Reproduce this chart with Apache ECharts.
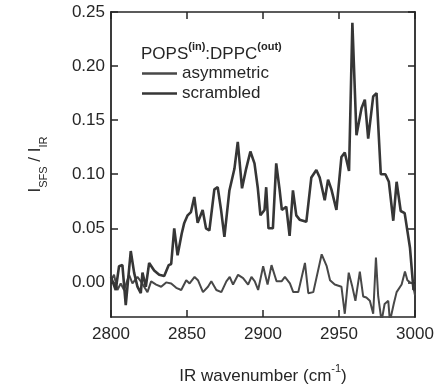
<!DOCTYPE html>
<html>
<head>
<meta charset="utf-8">
<script src="https://cdn.jsdelivr.net/npm/echarts@6/dist/echarts.min.js"></script>
<style>
  html, body { margin: 0; padding: 0; background: #fff; }
  #chart { width: 435px; height: 386px; }
</style>
</head>
<body>
<div id="chart"></div>
<script>
// wavenumbers (cm-1) and intensities
const wnScrambled = [
  2800, 2801, 2803.1, 2805.3, 2807.5, 2809.7, 2813, 2815.2, 2817.4, 2819.6,
  2820.7, 2822.9, 2825.1, 2828.4, 2831.7, 2835, 2838, 2839.6, 2841.6, 2843.8,
  2846.5, 2848.2, 2850.4, 2852.6, 2854.8, 2857, 2860.3, 2862.5, 2864.7, 2868,
  2870.2, 2872.4, 2874.6, 2877.9, 2881.2, 2883.4, 2886.2, 2888.9, 2891.7, 2894.4,
  2896.6, 2898.3, 2901, 2902.1, 2903.6, 2906.5, 2908.7, 2910.9, 2912.4, 2915.3,
  2917.5, 2919.7, 2921.9, 2924.1, 2928.5, 2931.8, 2935.1, 2937.3, 2940.6, 2942.8,
  2945, 2948.3, 2951.6, 2953.8, 2956.6, 2958.8, 2961.5, 2964.8, 2967, 2969.2,
  2972.5, 2974.7, 2977.5, 2980.5, 2982.8, 2985.7, 2987.9, 2990.6, 2993.2, 2996.7,
  2999, 3000
];
const scrambled = [
  0.005, 0.005, -0.007, 0.015, 0.016, -0.021, 0.029, 0.009, -0.004, -0.010,
  0.009, -0.004, 0.018, 0.011, 0.007, 0.006, 0.016, 0.017, 0.050, 0.025,
  0.045, 0.055, 0.062, 0.065, 0.079, 0.055, 0.067, 0.050, 0.048, 0.086,
  0.088, 0.067, 0.042, 0.085, 0.105, 0.130, 0.087, 0.105, 0.121, 0.110,
  0.087, 0.062, 0.067, 0.088, 0.050, 0.050, 0.110, 0.086, 0.067, 0.070,
  0.043, 0.085, 0.062, 0.058, 0.056, 0.097, 0.104, 0.097, 0.076, 0.095,
  0.086, 0.067, 0.116, 0.120, 0.103, 0.240, 0.136, 0.161, 0.169, 0.133,
  0.172, 0.175, 0.100, 0.100, 0.093, 0.057, 0.093, 0.066, 0.064, 0.032,
  -0.007, -0.005
];
const wnAsymmetric = [
  2800, 2802, 2804.2, 2806.4, 2808.6, 2811.9, 2814.1, 2817.4, 2819.6, 2821.8,
  2824, 2826.4, 2829.7, 2833, 2836.3, 2839.6, 2842.9, 2846.2, 2849.5, 2851.7,
  2855, 2857.2, 2860.5, 2863.8, 2866, 2869.3, 2872.6, 2875.9, 2878.1, 2880.3,
  2883.6, 2886.9, 2890.2, 2892.4, 2894.6, 2896.8, 2900.1, 2903, 2905.6, 2908.9,
  2912.2, 2914.4, 2917.7, 2919.9, 2923.2, 2927.6, 2929.8, 2933.1, 2938.6, 2941.9,
  2944.1, 2947.2, 2951.6, 2953.8, 2956.4, 2958.6, 2960.8, 2963.7, 2965.9, 2968,
  2970.3, 2972.5, 2974.3, 2975.8, 2978, 2980, 2982.4, 2983.5, 2986, 2987.9,
  2991.2, 2993.4, 2995, 2996.7, 2998.5, 3000
];
const asymmetric = [
  0.002, 0.007, -0.007, -0.001, -0.007, 0.007, -0.001, 0.005, 0.001, -0.004,
  -0.009, 0.001, -0.002, -0.004, 0.000, -0.001, -0.005, -0.007, 0.002, -0.001,
  0.005, 0.002, -0.009, -0.004, 0.001, -0.007, -0.009, 0.001, 0.005, -0.002,
  0.007, 0.004, -0.002, 0.005, 0.001, -0.007, 0.015, -0.002, 0.016, 0.001,
  0.001, 0.005, -0.001, -0.009, -0.009, 0.018, -0.010, -0.009, 0.026, 0.015,
  0.002, -0.002, -0.004, -0.029, 0.009, -0.003, -0.017, 0.010, -0.013, -0.014,
  -0.017, -0.029, 0.023, -0.013, -0.036, -0.020, -0.017, -0.036, -0.020, -0.009,
  -0.002, 0.010, 0.002, 0.000, -0.001, -0.012
];
const xTicks = [2800, 2850, 2900, 2950, 3000];
const yTicks = [0.00, 0.05, 0.10, 0.15, 0.20, 0.25];

const pairs = (xs, ys) => xs.map((x, i) => [x, ys[i]]);

const font = "Liberation Sans, Arial, sans-serif";
const ink = "#262626";

const chart = echarts.init(document.getElementById("chart"));

const frameX = {
  type: "value",
  min: 2800,
  max: 3000,
  interval: 50,
  axisLine: { onZero: false, lineStyle: { color: ink, width: 1.5 } },
  axisTick: { inside: true, length: 7, lineStyle: { color: ink, width: 1.5 } },
  splitLine: { show: false },
};
const frameY = {
  type: "value",
  min: -0.032,
  max: 0.25,
  axisLine: { show: true, onZero: false, lineStyle: { color: ink, width: 1.8 } },
  axisTick: {
    show: true,
    inside: true,
    length: 7,
    customValues: yTicks,
    lineStyle: { color: ink, width: 1.5 },
  },
  splitLine: { show: false },
};

const option = {
  animation: false,
  title: {
    text: "{a|POPS}{s|(in)}{a|:DPPC}{s|(out)}",
    left: 136,
    top: 36,
    textStyle: {
      fontWeight: "normal",
      rich: {
        a: { fontFamily: font, fontSize: 17, fontWeight: "normal", color: ink, lineHeight: 22, verticalAlign: "bottom" },
        s: { fontFamily: font, fontSize: 11, fontWeight: "bold", color: ink, lineHeight: 22, verticalAlign: "top" },
      },
    },
  },
  legend: {
    orient: "vertical",
    left: 137,
    top: 60,
    itemWidth: 35,
    itemHeight: 2.5,
    itemGap: 3,
    icon: "rect",
    textStyle: { fontFamily: font, fontSize: 17, color: ink },
    data: ["asymmetric", "scrambled"],
  },
  grid: { left: 111, right: 20, top: 12, bottom: 69, outerBoundsMode: "none" },
  xAxis: [
    Object.assign({}, frameX, {
      position: "bottom",
      name: "{a|IR wavenumber (cm}{s|-1}{a|)}",
      nameLocation: "middle",
      nameGap: 46,
      nameTextStyle: {
        rich: {
          a: { fontFamily: font, fontSize: 17, color: ink, lineHeight: 22, verticalAlign: "bottom" },
          s: { fontFamily: font, fontSize: 11, color: ink, lineHeight: 22, verticalAlign: "top" },
        },
      },
      axisLabel: {
        margin: 9,
        fontFamily: font,
        fontSize: 17,
        color: ink,
        customValues: xTicks,
        formatter: (v) => String(v),
      },
    }),
    Object.assign({}, frameX, {
      position: "top",
      axisLabel: { show: false },
    }),
  ],
  yAxis: [
    Object.assign({}, frameY, {
      position: "left",
      name: "{a|I}{s|SFS}{a| / I}{s|IR}",
      nameLocation: "middle",
      nameGap: 62,
      nameRotate: 90,
      nameTextStyle: {
        rich: {
          a: { fontFamily: font, fontSize: 17, color: ink, lineHeight: 22, verticalAlign: "top" },
          s: { fontFamily: font, fontSize: 11, color: ink, lineHeight: 22, verticalAlign: "bottom" },
        },
      },
      axisLabel: {
        margin: 6,
        fontFamily: font,
        fontSize: 17,
        color: ink,
        customValues: yTicks,
        formatter: (v) => v.toFixed(2),
      },
    }),
    Object.assign({}, frameY, {
      position: "right",
      axisLabel: { show: false },
    }),
  ],
  series: [
    {
      name: "asymmetric",
      type: "line",
      data: pairs(wnAsymmetric, asymmetric),
      showSymbol: false,
      symbol: "none",
      color: "#484848",
      lineStyle: { width: 2, color: "#484848" },
    },
    {
      name: "scrambled",
      type: "line",
      data: pairs(wnScrambled, scrambled),
      showSymbol: false,
      symbol: "none",
      color: "#363636",
      lineStyle: { width: 2.6, color: "#363636" },
      z: 3,
    },
  ],
};

chart.setOption(option);
</script>
</body>
</html>
